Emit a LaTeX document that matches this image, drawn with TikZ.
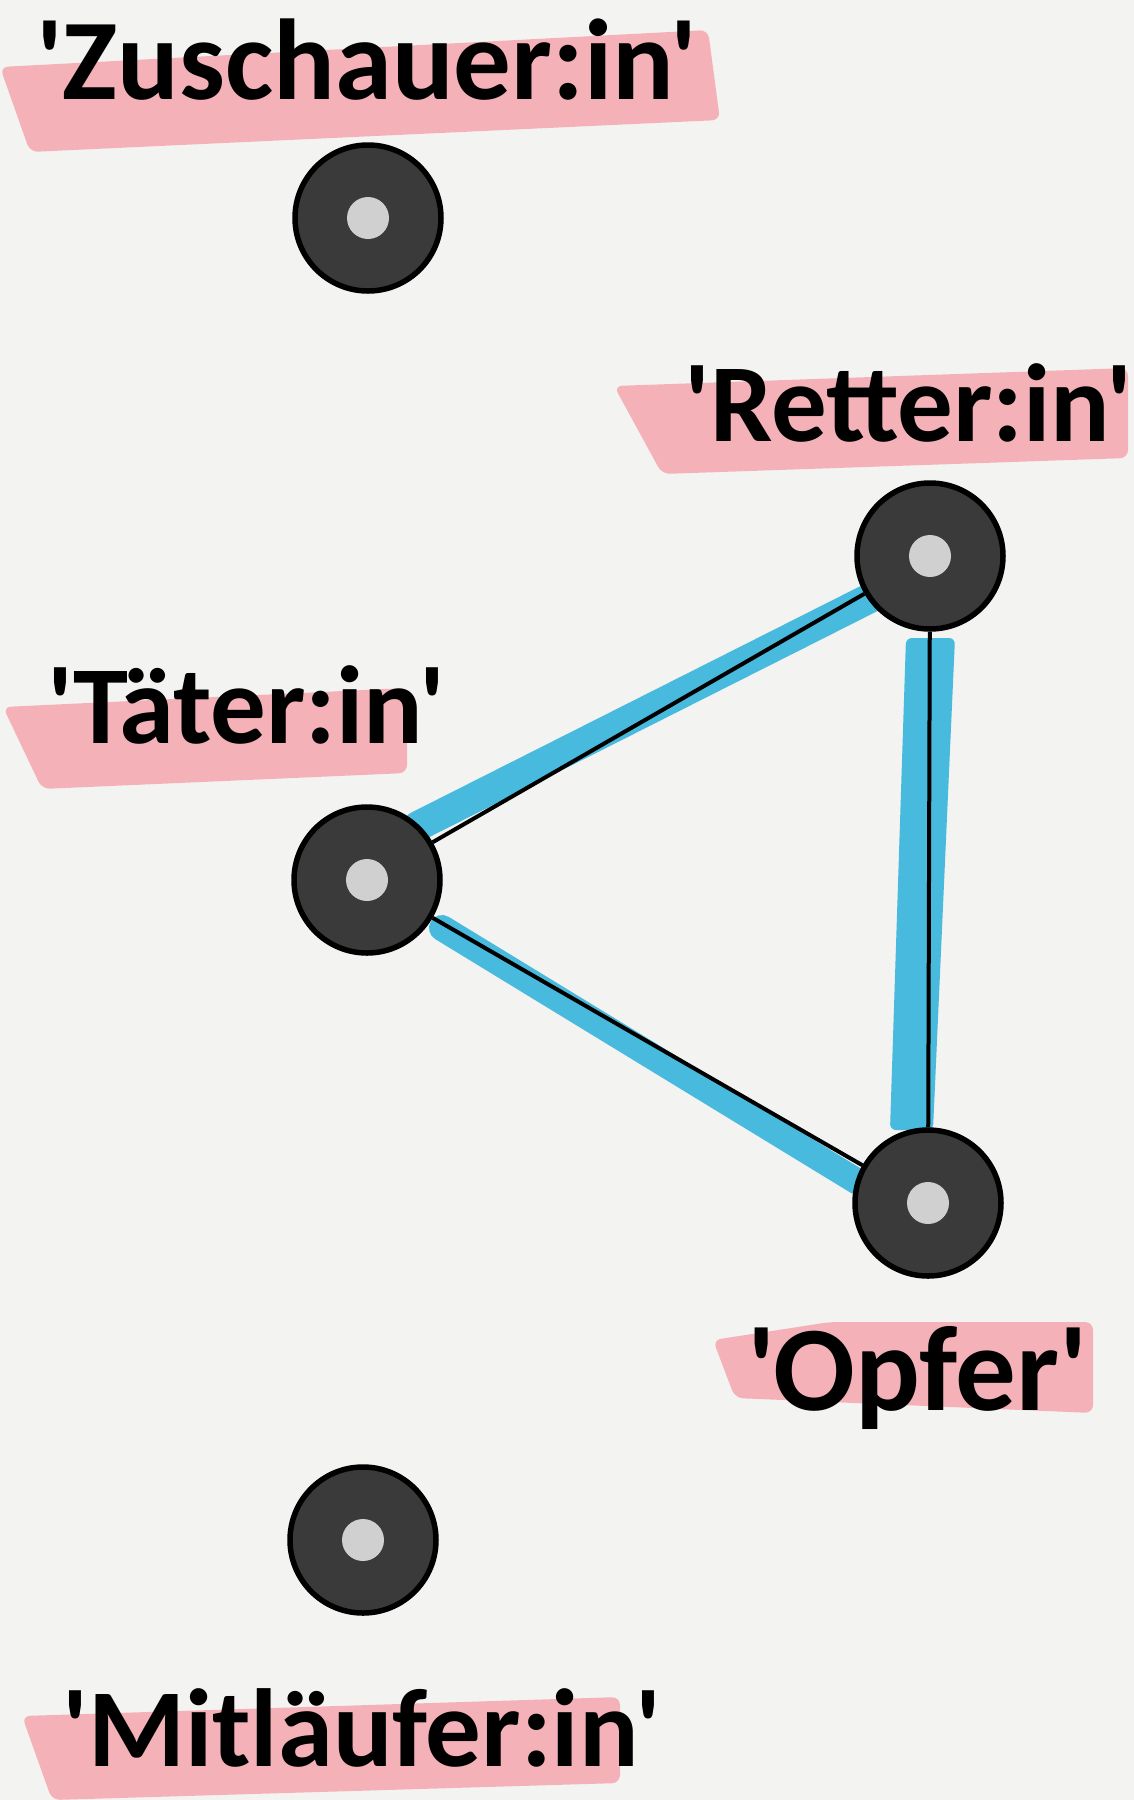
\documentclass[tikz,border=0pt]{standalone}
\usepackage{fontspec}
\newfontfamily\labfont{Carlito}[Ligatures=TeXOff]
\usetikzlibrary{calc}
\definecolor{bgpaper}{RGB}{243,243,241}
\definecolor{hlpink}{RGB}{245,172,178}
\definecolor{hlblue}{RGB}{72,186,222}
\definecolor{nodefill}{RGB}{58,58,58}
\definecolor{dotfill}{RGB}{208,208,208}
\pgfdeclarelayer{paper}
\pgfdeclarelayer{bg}
\pgfsetlayers{paper,bg,main}
\tikzset{
  role/.style={circle, draw=black, line width=5.5pt, fill=nodefill, minimum size=146pt, inner sep=0pt,
    path picture={\fill[dotfill] (path picture bounding box.center) circle (21pt);}},
  lbl/.style={anchor=base west, inner sep=0pt, text=black},
  lsize/.style={font=\labfont\bfseries\fontsize{#1}{#1}\selectfont},
  marker/.style={fill=hlpink, fill opacity=0.9, draw=none, rounded corners=8pt},
  band/.style={draw=hlblue, line cap=round, line width=28pt},
  bandfill/.style={fill=hlblue, draw=none, rounded corners=6pt},
  link/.style={draw=black, line width=4pt},
}
\begin{document}
\begin{tikzpicture}[x=1pt,y=-1pt]
\begin{pgfonlayer}{paper}
\fill[bgpaper] (0,0) rectangle (1134,1800);
\end{pgfonlayer}
\useasboundingbox (0,0) rectangle (1134,1800);

% role nodes
\node[role] (zus) at (368,218) {};
\node[role] (ret) at (930,556) {};
\node[role] (tae) at (367,880) {};
\node[role] (opf) at (928,1203) {};
\node[role] (mit) at (363,1540) {};

% labels
\node[lbl, lsize=115] (lzus) at (36,99) {'Zuschauer:in'};
\node[lbl, lsize=111] (lret) at (684,441) {'Retter:in'};
\node[lbl, lsize=111] (ltae) at (47,743) {'Täter:in'};
\node[lbl, lsize=121] (lopf) at (747,1410) {'Opfer'};
\node[lbl, lsize=111] (lmit) at (62,1766) {'Mitläufer:in'};

% highlighter strips and blue bands
\coordinate (btr1) at (418,826);
\coordinate (btr2) at (878,594);
\coordinate (bto1) at (442,928);
\coordinate (bto2) at (858,1182);
\coordinate (bro1) at (906,638);
\coordinate (bro2) at (955,638);
\coordinate (bro3) at (933,1130);
\coordinate (bro4) at (890,1130);
\begin{pgfonlayer}{bg}
  \fill[marker] (0,67) -- (708,30) -- (720,120) -- (30,152) -- cycle;
  \fill[marker] (614,386) -- (1128,368) -- (1128,458) -- (662,474) -- cycle;
  \fill[marker] (3,707) -- (407,688) -- (407,773) -- (42,789) -- cycle;
  \fill[marker] (713,1340) -- (830,1322) -- (1093,1322) -- (1093,1413) -- (735,1398) -- cycle;
  \fill[marker] (22,1716) -- (620,1697) -- (620,1783) -- (52,1800) -- cycle;
  \draw[band, line width=30pt] (btr1) -- (btr2);
  \draw[band, line width=26pt] (bto1) -- (bto2);
  \fill[bandfill] (bro1) -- (bro2) -- (bro3) -- (bro4) -- cycle;
\end{pgfonlayer}

% connectors
\draw[link] (tae) -- (ret);
\draw[link] (tae) -- (opf);
\draw[link] (ret) -- (opf);
\end{tikzpicture}
\end{document}
